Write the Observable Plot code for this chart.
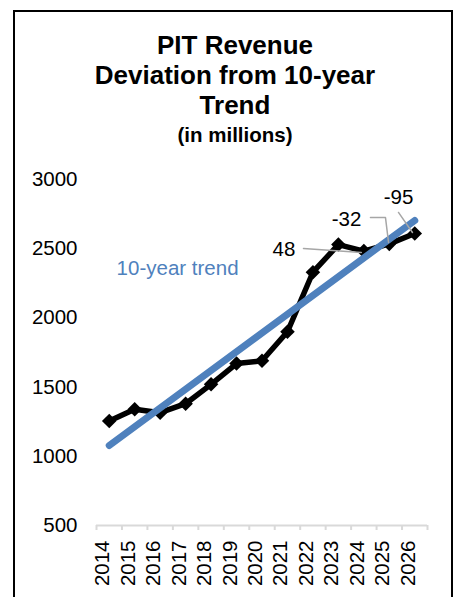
<!DOCTYPE html>
<html>
<head>
<meta charset="utf-8">
<script src="https://cdn.jsdelivr.net/npm/d3@7"></script>
<script src="https://cdn.jsdelivr.net/npm/@observablehq/plot@0.6"></script>
<style>
  html, body { margin: 0; padding: 0; background: #fff; }
  body { width: 459px; height: 597px; position: relative; overflow: hidden; font-family: "Liberation Sans", Arial, sans-serif; }
  #frame { position: absolute; left: 13px; top: 10px; width: 440px; height: 620px; border: 2px solid #000; box-sizing: border-box; }
  .title { position: absolute; left: 35px; width: 400px; text-align: center; font-weight: bold; color: #000; white-space: nowrap; }
  #chart { position: absolute; left: 0; top: 0; }
</style>
</head>
<body>
<div id="frame"></div>
<div class="title" style="top:30px;font-size:26px;line-height:30px;">PIT Revenue<br>Deviation from 10-year<br>Trend</div>
<div class="title" style="top:122px;font-size:20.5px;line-height:26px;">(in millions)</div>
<div id="chart"></div>
<script>
// ---- data ----
const years = [2014, 2015, 2016, 2017, 2018, 2019, 2020, 2021, 2022, 2023, 2024, 2025, 2026];
const revenue = [1255, 1340, 1315, 1380, 1520, 1670, 1690, 1900, 2330, 2530, 2483, 2535, 2610];
const trendYears = [2014, 2026];
const trendValues = [1078, 2704];
const trendLabel = "10-year trend";
const yTicks = [500, 1000, 1500, 2000, 2500, 3000];
// deviation annotations (label text, label position in data units, leader path in data units)
const devLabels = ["48", "-32", "-95"];
const devLabelX = [2020.86, 2023.32, 2025.36];
const devLabelY = [2494, 2711, 2870];
const leader48 = [[2021.63, 2501], [2023.9, 2473]];
const leader32 = [[2024.26, 2725], [2024.85, 2725], [2024.97, 2545]];
const leader95 = [[2025.36, 2762], [2025.91, 2617]];

// ---- tables built from arrays ----
const series = years.map((y, i) => ({year: y, value: revenue[i]}));
const trend = trendYears.map((y, i) => ({year: y, value: trendValues[i]}));
const bounds = years.map(y => y - 0.5).concat([years[years.length - 1] + 0.5]);
const labels = devLabels.map((t, i) => ({text: t, x: devLabelX[i], y: devLabelY[i]}));
const leaders = [leader48, leader32, leader95].flatMap((pts, k) => pts.map(([x, y]) => ({k, x, y})));

const diamond = {
  draw(ctx, size) {
    const r = Math.sqrt(size / 2);
    ctx.moveTo(0, -r); ctx.lineTo(r, 0); ctx.lineTo(0, r); ctx.lineTo(-r, 0); ctx.closePath();
  }
};

const blue = "#4f81bd";
const fs = "20.5px";

const chart = Plot.plot({
  width: 459,
  height: 597,
  marginLeft: 96,
  marginRight: 32,
  marginTop: 179,
  marginBottom: 72,
  style: {fontFamily: "'Liberation Sans', Arial, sans-serif", fontSize: fs, background: "transparent", overflow: "visible", color: "#000"},
  x: {type: "linear", domain: [bounds[0], bounds[bounds.length - 1]], axis: null},
  y: {domain: [yTicks[0], yTicks[yTicks.length - 1]], axis: null},
  marks: [
    Plot.ruleY([yTicks[0]], {stroke: "#d9d9d9", strokeWidth: 2}),
    Plot.axisX({ticks: bounds, tickSize: 5, tickFormat: () => "", color: "#d9d9d9", strokeWidth: 2}),
    Plot.axisY({ticks: yTicks, tickSize: 0, tickPadding: 19, fontSize: fs, tickFormat: d => String(d)}),
    Plot.text(years, {x: d => d, frameAnchor: "bottom", dy: 15, rotate: -90, textAnchor: "end", text: d => String(d), fontSize: fs, fill: "#000"}),
    Plot.line(series, {x: "year", y: "value", stroke: "#000", strokeWidth: 5.5, strokeLinejoin: "round"}),
    Plot.dot(series, {x: "year", y: "value", symbol: diamond, r: 5.8, fill: "#000", stroke: "none"}),
    Plot.line(trend, {x: "year", y: "value", stroke: blue, strokeWidth: 7, strokeLinecap: "round"}),
    Plot.line(leaders, {x: "x", y: "y", z: "k", stroke: "#a6a6a6", strokeWidth: 1.5}),
    Plot.text(labels, {x: "x", y: "y", text: "text", textAnchor: "middle", fontSize: fs, fill: "#000"}),
    Plot.text([trendLabel], {x: trendYears[0] + 0.29, y: 2357, text: d => d, textAnchor: "start", fontSize: fs, fill: blue})
  ]
});
document.getElementById("chart").appendChild(chart);
</script>
</body>
</html>
